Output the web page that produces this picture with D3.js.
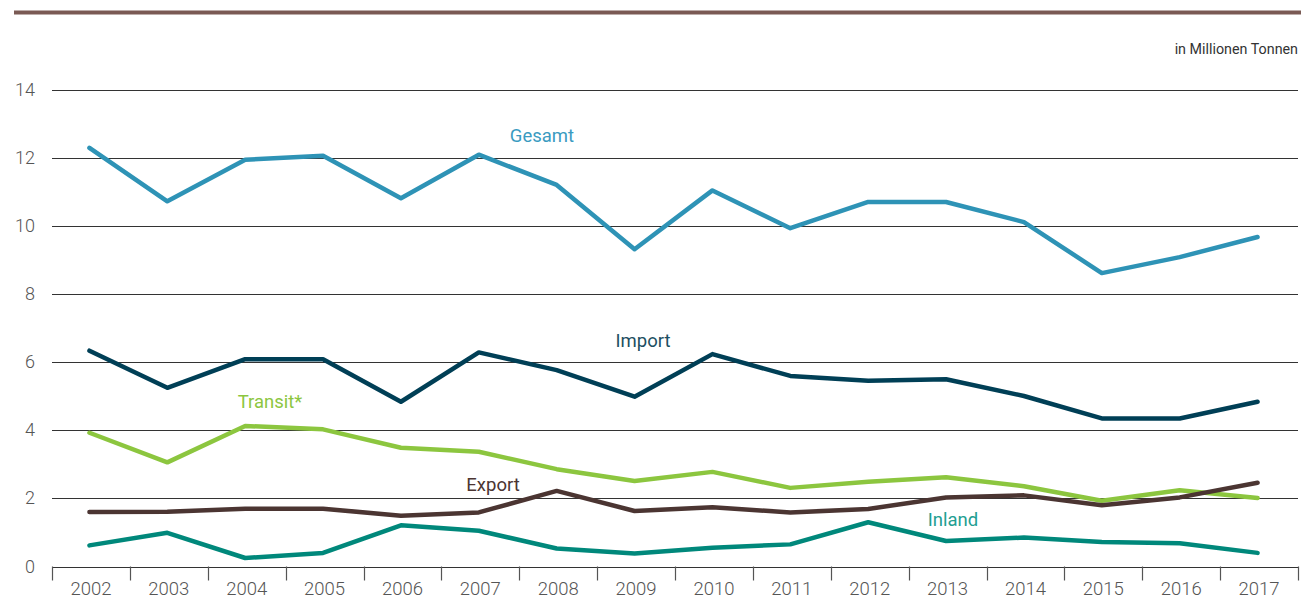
<!DOCTYPE html>
<html>
<meta charset="utf-8">
<style>
body { margin: 0; background: #fff; }
text { font-family: Roboto, 'Noto Sans', sans-serif; }
.grid line { stroke: #333; stroke-width: 1; }
.tick-label { fill: #555; font-size: 18px; font-weight: 300; }
.series { fill: none; stroke-width: 4.5; stroke-linejoin: round; stroke-linecap: round; }
</style>
<body>
<svg id="chart" width="1301" height="599"></svg>
<script src="https://d3js.org/d3.v7.min.js"></script>
<script>

var years = ["2002","2003","2004","2005","2006","2007","2008","2009","2010","2011","2012","2013","2014","2015","2016","2017"];
var yTicks = [0, 2, 4, 6, 8, 10, 12, 14];

var gesamt  = [12.30, 10.73, 11.95, 12.07, 10.82, 12.10, 11.21, 9.32, 11.05, 9.94, 10.71, 10.71, 10.12, 8.62, 9.09, 9.68];
var importe = [6.34, 5.25, 6.09, 6.09, 4.84, 6.29, 5.77, 4.99, 6.24, 5.60, 5.46, 5.50, 5.01, 4.35, 4.35, 4.84];
var transit = [3.93, 3.06, 4.13, 4.03, 3.49, 3.37, 2.86, 2.51, 2.78, 2.31, 2.49, 2.62, 2.36, 1.93, 2.24, 2.01];
var exporte = [1.60, 1.61, 1.70, 1.70, 1.49, 1.59, 2.22, 1.63, 1.74, 1.59, 1.69, 2.03, 2.09, 1.80, 2.03, 2.46];
var inland  = [0.62, 0.99, 0.25, 0.40, 1.21, 1.05, 0.53, 0.38, 0.55, 0.65, 1.30, 0.75, 0.85, 0.72, 0.68, 0.40];

var seriesNames = ["Gesamt", "Import", "Transit*", "Export", "Inland"];

var svg = d3.select("#chart"),
    margin = {top: 90, left: 52, right: 3, bottom: 32},
    width = 1301 - margin.left - margin.right,
    height = 566.5 - margin.top;

var x = d3.scaleBand().domain(years).range([margin.left, margin.left + width]);
var y = d3.scaleLinear().domain([0, 14]).range([margin.top + height, margin.top]);

// brown bar at the very top
svg.append("rect")
    .attr("x", 14).attr("y", 10.5)
    .attr("width", 1301 - 14).attr("height", 4)
    .attr("fill", "#7a5a54");

svg.append("text")
    .attr("x", 1298).attr("y", 54)
    .attr("text-anchor", "end")
    .attr("fill", "#333")
    .style("font-size", "14.3px")
    .text("in Millionen Tonnen");

// horizontal gridlines
var grid = svg.append("g").attr("class", "grid");
grid.selectAll("line")
    .data(yTicks)
    .enter().append("line")
    .attr("x1", margin.left).attr("x2", margin.left + width)
    .attr("y1", function(d) { return Math.round(y(d)) + 0.5; })
    .attr("y2", function(d) { return Math.round(y(d)) + 0.5; });

svg.selectAll(".ylab")
    .data(yTicks)
    .enter().append("text")
    .attr("class", "tick-label")
    .attr("x", 35)
    .attr("y", function(d) { return y(d) + 6; })
    .attr("text-anchor", "end")
    .text(function(d) { return d; });

// x axis with separators between years
var xAxis = d3.axisBottom(x).tickSize(0).tickPadding(14);
var gx = svg.append("g")
    .attr("transform", "translate(0," + (Math.round(y(0)) + 0.5) + ")")
    .call(xAxis);
gx.select(".domain").remove();
gx.selectAll("text").attr("class", "tick-label").attr("fill", null).style("font-size", "18.5px");

var edges = years.map(function(d) { return x(d); }).concat([margin.left + width]);
svg.selectAll(".sep")
    .data(edges)
    .enter().append("line")
    .attr("x1", function(d) { return Math.round(d) + 0.5; })
    .attr("x2", function(d) { return Math.round(d) + 0.5; })
    .attr("y1", y(0)).attr("y2", y(0) + 14)
    .attr("stroke", "#555").attr("stroke-width", 1.2);

var line = d3.line()
    .x(function(d, i) { return x(years[i]) + x.bandwidth() / 2 - 1.5; })
    .y(function(d) { return y(d); });

var data = [gesamt, importe, transit, exporte, inland];
var colors = ["#2e93b6", "#003f56", "#8cc63f", "#4b3532", "#00887b"];
var labelColors = ["#3a9bc1", "#1d4f62", "#8cc63f", "#4b3532", "#229e92"];
var labelPos = [[542, 142], [643, 347], [270, 408], [493, 491], [953, 526]];

svg.selectAll(".series")
    .data(data)
    .enter().append("path")
    .attr("class", "series")
    .attr("stroke", function(d, i) { return colors[i]; })
    .attr("d", line);

svg.selectAll(".slabel")
    .data(seriesNames)
    .enter().append("text")
    .attr("x", function(d, i) { return labelPos[i][0]; })
    .attr("y", function(d, i) { return labelPos[i][1]; })
    .attr("text-anchor", "middle")
    .attr("fill", function(d, i) { return labelColors[i]; })
    .style("font-size", "18.5px")
    .text(function(d) { return d; });

</script>
</body>
</html>
